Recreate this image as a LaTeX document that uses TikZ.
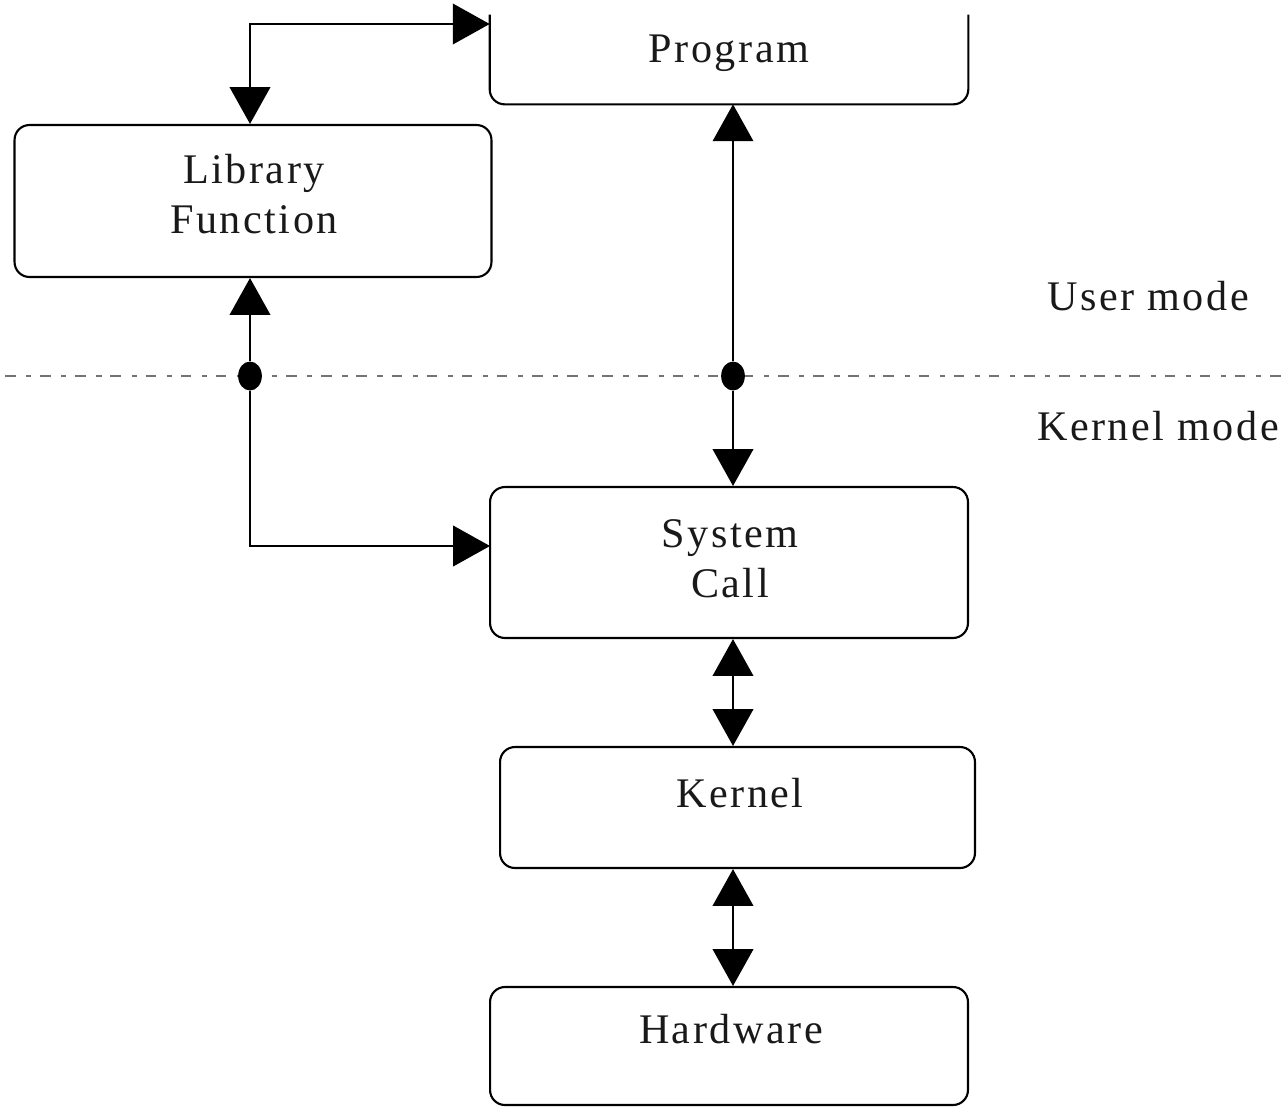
\documentclass[tikz,border=0pt]{standalone}
\usepackage{fontspec}
\setmainfont{Liberation Serif}[LetterSpace=6]
\usetikzlibrary{arrows.meta,shapes.geometric}

\tikzset{
  box/.style={draw=black, line width=1.2pt, rounded corners=8.5pt, inner sep=0pt, fill=white},
  lbl/.style={font=\fontsize{24}{28}\selectfont, text=black!90, inner sep=0pt, align=center},
  conn/.style={draw=black, line width=1.5pt},
  tip/.style={-{Triangle[length=21pt,width=23pt]}},
  tips/.style={{Triangle[length=21pt,width=23pt]}-{Triangle[length=21pt,width=23pt]}},
  junction/.style={ellipse, fill=black, minimum width=13.5pt, minimum height=16.5pt, inner sep=0pt},
  divider/.style={draw=black!55, line width=1.1pt, dash pattern=on 6pt off 6pt on 3pt off 5pt},
}

\begin{document}
\begin{tikzpicture}[x=0.02cm, y=-0.02cm]
  \useasboundingbox (0,0) rectangle (1287,1112);

  % mode divider
  \coordinate (divL) at (5,376);
  \coordinate (divR) at (1287,376);
  \draw[divider] (divL) -- (divR);

  % boxes
  \node[inner sep=0pt, minimum width=9.56cm, minimum height=1.78cm] (prog) at (729,59.5) {};
  \draw[line width=1.2pt, rounded corners=8.5pt]
    (prog.north west) -- (prog.south west) -- (prog.south east) -- (prog.north east);
  \node[box, minimum width=9.54cm, minimum height=3.04cm] (lib) at (253,201) {};
  \node[box, minimum width=9.56cm, minimum height=3.02cm] (sys) at (729,562.5) {};
  \node[box, minimum width=9.5cm, minimum height=2.42cm] (kern) at (737.5,807.5) {};
  \node[box, minimum width=9.56cm, minimum height=2.36cm] (hw) at (729,1046) {};

  % box texts (base = baseline of the last line)
  \node[lbl, anchor=base] (progtxt) at (729,62) {Program};
  \node[lbl, anchor=base] (libtxt) at (254,233) {Library\\Function};
  \node[lbl, anchor=base] (systxt) at (730,597) {System\\Call};
  \node[lbl, anchor=base] (kerntxt) at (740,807) {Kernel};
  \node[lbl, anchor=base] (hwtxt) at (731,1043) {Hardware};

  % mode labels
  \node[lbl, anchor=base] (usermode) at (1148,310) {User mode};
  \node[lbl, anchor=base] (kernmode) at (1158,440) {Kernel mode};

  % junctions on the divider
  \node[junction] (dotL) at (250,376) {};
  \node[junction] (dotR) at (733,376) {};

  % connectors
  \coordinate (loopTop) at (250,24);
  \coordinate (sysIn) at (490,546);
  \draw[conn, tips] (lib.north -| loopTop) -- (loopTop) -- (prog.west |- loopTop);
  \draw[conn, tip] (dotL) -- (lib.south -| dotL);
  \draw[conn, tip] (dotL) |- (sysIn);
  \draw[conn, tip] (dotR) -- (prog.south -| dotR);
  \draw[conn, tip] (dotR) -- (sys.north -| dotR);
  \draw[conn, tips] (sys.south -| dotR) -- (kern.north -| dotR);
  \draw[conn, tips] (kern.south -| dotR) -- (hw.north -| dotR);
\end{tikzpicture}
\end{document}
